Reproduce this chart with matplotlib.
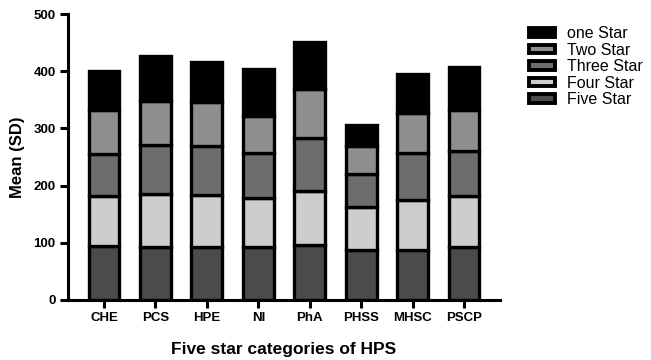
import matplotlib
matplotlib.use("Agg")
import matplotlib.pyplot as plt
import numpy as np

plt.rcParams['font.family'] = ['Liberation Sans', 'DejaVu Sans']

categories = ["CHE", "PCS", "HPE", "NI", "PhA", "PHSS", "MHSC", "PSCP"]
# cumulative tops
cum_five  = [94, 92.5, 92.5, 92.5, 95, 87, 87, 92.5]
cum_four  = [181, 184.5, 182.7, 177.5, 190, 162, 175, 181.5]
cum_three = [255, 271, 269, 257.7, 284, 220, 257, 260]
cum_two   = [332, 348, 346.7, 322, 370, 270, 328, 332]
cum_one   = [400, 428, 416, 405, 452, 306, 396, 407.5]

series_names = ["Five Star", "Four Star", "Three Star", "Two Star", "one Star"]
colors = ["#4b4b4b", "#cdcdcd", "#6d6d6d", "#8e8e8e", "#000000"]

cums = [cum_five, cum_four, cum_three, cum_two, cum_one]

fig = plt.figure(figsize=(6.51, 3.6), dpi=100)
ax = fig.add_axes([68/651, 1-299.5/360, (500-68)/651, (299.5-14.5)/360])

x = np.arange(len(categories))
bottom = np.zeros(len(categories))
handles = []
for name, col, cum in zip(series_names, colors, cums):
    cum = np.array(cum, dtype=float)
    h = ax.bar(x, cum - bottom, bottom=bottom, width=0.6, color=col,
               edgecolor="black", linewidth=2.4, label=name, zorder=2)
    handles.append(h)
    bottom = cum

ax.set_xlim(-0.7, 7.7)
ax.set_ylim(0, 500)
ax.set_yticks([0, 100, 200, 300, 400, 500])
ax.set_xticks(x)
ax.set_xticklabels(categories)
for s in ["top", "right"]:
    ax.spines[s].set_visible(False)
for s in ["left", "bottom"]:
    ax.spines[s].set_linewidth(2.2)
ax.tick_params(axis="both", width=2.2, length=6, labelsize=9.5, pad=3)
for lbl in ax.get_xticklabels() + ax.get_yticklabels():
    lbl.set_fontweight("bold")
ax.set_ylabel("Mean (SD)", fontsize=12, fontweight="bold", labelpad=6)
ax.set_xlabel("Five star categories of HPS", fontsize=12.5, fontweight="bold", labelpad=13)

leg = fig.legend(handles[::-1], [h.get_label() for h in handles[::-1]],
                 loc="upper left", bbox_to_anchor=(529/651, 1-26/360),
                 frameon=False, fontsize=11.5, labelspacing=0.1,
                 handlelength=1.6, handleheight=0.45, handletextpad=0.75,
                 borderaxespad=0, borderpad=0)
for p in leg.get_patches():
    p.set_linewidth(2.8)

fig.savefig("out.png", dpi=100)
